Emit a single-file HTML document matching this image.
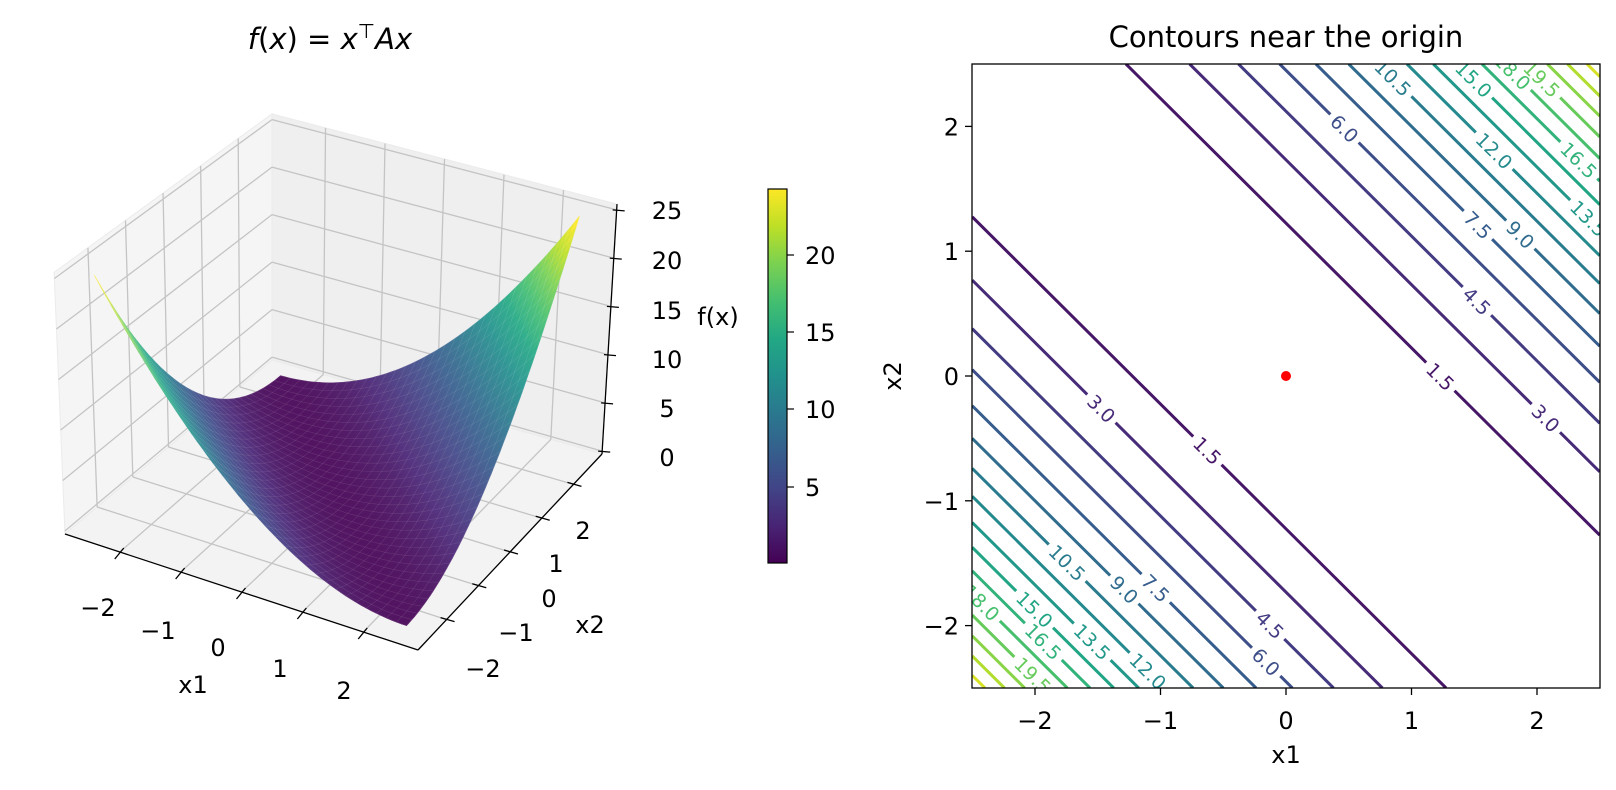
<!DOCTYPE html>
<html><head><meta charset="utf-8">
<style>
html,body{margin:0;padding:0;background:#fff;}
svg{display:block;font-family:"DejaVu Sans","Liberation Sans",sans-serif;}
</style></head>
<body>
<svg id="s" width="1616" height="790" viewBox="0 0 1616 790" xmlns="http://www.w3.org/2000/svg">
<defs>
<clipPath id="cax"><rect x="972" y="64" width="628" height="624"/></clipPath>
<linearGradient id="vg" x1="0" y1="1" x2="0" y2="0">
<stop offset="0" stop-color="#440154"/><stop offset="0.1" stop-color="#482475"/><stop offset="0.2" stop-color="#414487"/><stop offset="0.3" stop-color="#355f8d"/><stop offset="0.4" stop-color="#2a788e"/><stop offset="0.5" stop-color="#21918c"/><stop offset="0.6" stop-color="#22a884"/><stop offset="0.7" stop-color="#44bf70"/><stop offset="0.8" stop-color="#7ad151"/><stop offset="0.9" stop-color="#bddf26"/><stop offset="1" stop-color="#fde725"/>
</linearGradient>
</defs>
<g id="g3d"></g>
<g id="gc"></g>
<text x="330" y="49" font-size="29" text-anchor="middle"><tspan font-style="italic">f</tspan>(<tspan font-style="italic">x</tspan>) = <tspan font-style="italic">x</tspan><tspan font-size="20" dy="-11">⊤</tspan><tspan dy="11" font-style="italic">Ax</tspan></text>
<text x="1286" y="47" font-size="29" text-anchor="middle">Contours near the origin</text>
<rect x="768" y="189" width="19" height="374" fill="url(#vg)" stroke="#000" stroke-width="1.2"/>
<g stroke="#000" stroke-width="1.2">
<line x1="787" y1="487" x2="794" y2="487"/><line x1="787" y1="409" x2="794" y2="409"/><line x1="787" y1="332" x2="794" y2="332"/><line x1="787" y1="255" x2="794" y2="255"/>
</g>
<g font-size="24">
<text x="805" y="496">5</text><text x="805" y="418">10</text><text x="805" y="341">15</text><text x="805" y="264">20</text>
<text x="718" y="325" text-anchor="middle">f(x)</text>
</g>
</svg>
<script>
var NS="http://www.w3.org/2000/svg";
function el(p,t,a,txt){var e=document.createElementNS(NS,t);for(var k in a)e.setAttribute(k,a[k]);if(txt!=null)e.textContent=txt;p.appendChild(e);return e;}
var VS=[[0,[68,1,84]],[0.1,[72,36,117]],[0.2,[65,68,135]],[0.3,[53,95,141]],[0.4,[42,120,142]],[0.5,[33,145,140]],[0.6,[34,168,132]],[0.7,[68,191,112]],[0.8,[122,209,81]],[0.9,[189,223,38]],[1,[253,231,37]]];
function virc(t){t=Math.max(0,Math.min(1,t));for(var i=1;i<VS.length;i++){if(t<=VS[i][0]){var a=VS[i-1],b=VS[i],f=(t-a[0])/(b[0]-a[0]);return [0,1,2].map(function(j){return a[1][j]+(b[1][j]-a[1][j])*f});}}return [253,231,37];}
function vir(t){return "rgb("+virc(t).map(Math.round).join(",")+")";}
function virL(t,w){return "rgb("+virc(t).map(function(c){return Math.round(c+(255-c)*w)}).join(",")+")";}
var g=document.getElementById("g3d");
var A=[65,534],B=[418,650],C=[602,454],D=[272,360];
var kA=10.1,kB=10.0,kC=9.65,kD=9.5,sA=-0.42,sB=0.1,sC=0.58,sD=0;
var H=2.9,Z0=-0.3,Z1=25.6;
function bil(a,b,c,d,u,v){return (1-u)*(1-v)*a+u*(1-v)*b+u*v*c+(1-u)*v*d;}
function P(x1,x2,z){var u=(x1+H)/(2*H),v=(x2+H)/(2*H);var fx=bil(A[0],B[0],C[0],D[0],u,v),fy=bil(A[1],B[1],C[1],D[1],u,v);var k=bil(kA,kB,kC,kD,u,v),s=bil(sA,sB,sC,sD,u,v);var zz=z-Z0;return [fx+zz*s,fy-zz*k];}
function pts(a){return a.map(function(p){return p[0].toFixed(1)+","+p[1].toFixed(1)}).join(" ");}
el(g,"polygon",{points:pts([P(-H,-H,Z0),P(-H,H,Z0),P(-H,H,Z1),P(-H,-H,Z1)]),fill:"#f5f5f5",stroke:"#ebebeb","stroke-width":1});
el(g,"polygon",{points:pts([P(-H,H,Z0),P(H,H,Z0),P(H,H,Z1),P(-H,H,Z1)]),fill:"#efefef",stroke:"#ebebeb","stroke-width":1});
el(g,"polygon",{points:pts([P(-H,-H,Z0),P(H,-H,Z0),P(H,H,Z0),P(-H,H,Z0)]),fill:"#f3f3f3",stroke:"#ebebeb","stroke-width":1});
var gs={stroke:"#c4c4c4","stroke-width":1.3,fill:"none"};
function ln(p,q,a){var o={x1:p[0],y1:p[1],x2:q[0],y2:q[1]};for(var k in a)o[k]=a[k];el(g,"line",o);}
for(var t=-2;t<=2;t++){
 ln(P(-H,t,Z0),P(-H,t,Z1),gs); ln(P(t,H,Z0),P(t,H,Z1),gs);
 ln(P(t,-H,Z0),P(t,H,Z0),gs); ln(P(-H,t,Z0),P(H,t,Z0),gs);
}
for(var z=0;z<=25;z+=5){ln(P(-H,-H,z),P(-H,H,z),gs);ln(P(-H,H,z),P(H,H,z),gs);}
var N=60,quads=[];
function f(a,b){return (a+b)*(a+b);}
for(var i=0;i<N;i++)for(var j=0;j<N;j++){
 var a0=-2.5+5*i/N,a1=-2.5+5*(i+1)/N,b0=-2.5+5*j/N,b1=-2.5+5*(j+1)/N;
 var zs=[f(a0,b0),f(a1,b0),f(a1,b1),f(a0,b1)];var zm=(zs[0]+zs[1]+zs[2]+zs[3])/4;
 quads.push({d:(a0+a1)/2-(b0+b1)/2,p:[P(a0,b0,zs[0]),P(a1,b0,zs[1]),P(a1,b1,zs[2]),P(a0,b1,zs[3])],c:virL(zm/24.3,0.08)});
}
quads.sort(function(x,y){return x.d-y.d;});
var sg=el(g,"g",{});
quads.forEach(function(q){el(sg,"polygon",{points:pts(q.p),fill:q.c,stroke:q.c,"stroke-width":0.7,"stroke-linejoin":"round"});});
var mg=el(g,"g",{stroke:"#ffffff","stroke-opacity":0.12,"stroke-width":0.6,fill:"none"});
for(var i=0;i<=N;i+=2){var pa=[],pb=[];for(var j=0;j<=N;j+=2){var a=-2.5+5*i/N,b=-2.5+5*j/N;pa.push(P(a,b,f(a,b)));pb.push(P(b,a,f(a,b)));}el(mg,"polyline",{points:pts(pa)});el(mg,"polyline",{points:pts(pb)});}
var ax={stroke:"#000","stroke-width":1.3};
ln(P(-H,-H,Z0),P(H,-H,Z0),ax);ln(P(H,-H,Z0),P(H,H,Z0),ax);ln(P(H,H,Z0),P(H,H,Z1),ax);
for(var t=-2;t<=2;t++){var p=P(t,-H,Z0);ln([p[0]+4,p[1]-4],[p[0]-5,p[1]+7],ax);var q=P(H,t,Z0);ln([q[0]-6,q[1]-2],[q[0]+8,q[1]+2],ax);}
for(var z=0;z<=25;z+=5){var r=P(H,H,z);ln([r[0]-4,r[1]],[r[0]+8,r[1]+1],ax);}
var tl={"font-size":24,"text-anchor":"middle"};
function tx(x,y,s,a){var o={x:x,y:y};for(var k in a)o[k]=a[k];el(g,"text",o,s);}
[["−2",98,616],["−1",158,639],["0",218,656],["1",280,677],["2",344,699]].forEach(function(d){tx(d[1],d[2],d[0],tl);});
tx(193,693,"x1",tl);
[["−2",483,677],["−1",516,641],["0",549,607],["1",556,572],["2",583,539]].forEach(function(d){tx(d[1],d[2],d[0],tl);});
tx(590,633,"x2",tl);
[["25",210],["20",260],["15",310],["10",359],["5",408],["0",457]].forEach(function(d){tx(667,d[1]+9,d[0],tl);});
var gc=document.getElementById("gc");
var X0=1286,UX=125.5,Y0=376,UY=124.8;
function S(x1,x2){return [X0+UX*x1,Y0-UY*x2];}
el(gc,"rect",{x:972,y:64,width:628,height:624,fill:"#fff"});
var cg=el(gc,"g",{"clip-path":"url(#cax)"});
function lc(L){return vir(L/25.5);}
for(var k=1;k<=16;k++){var L=1.5*k,s=Math.sqrt(L);
 [s,-s].forEach(function(ss){var p,q;if(ss>0){p=S(ss-2.5,2.5);q=S(2.5,ss-2.5);}else{p=S(-2.5,ss+2.5);q=S(ss+2.5,-2.5);}
 el(cg,"line",{x1:p[0],y1:p[1],x2:q[0],y2:q[1],stroke:lc(L),"stroke-width":3});});
}
var labs=[[1.5,1,1440,377],[3.0,1,1543,421],[4.5,1,1478,300],[6.0,1,1345,128],[7.5,1,1478,225],[9.0,1,1520,235],[10.5,1,1393,78],[12.0,1,1495,150],[15.0,1,1473,80],[18.0,1,1512,72],[19.5,1,1543,78],[16.5,1,1584,155],[13.5,1,1595,212],
[3.0,-1,1102,408],[1.5,-1,1207,451],[4.5,-1,1271,624],[6.0,-1,1252,676],[7.5,-1,1171,573],[9.0,-1,1128,586],[10.5,-1,1068,562],[12.0,-1,1143,676],[13.5,-1,1084,650],[15.0,-1,1042,602],[16.5,-1,1058,627],[18.0,-1,980,604],[19.5,-1,1027,681]];
var ang=Math.atan2(UY,UX)*180/Math.PI;
labs.forEach(function(l){var L=l[0],s=l[1]*Math.sqrt(L);var x1=(l[2]-X0)/UX,x2=(Y0-l[3])/UY;var d=(x1+x2-s)/2;x1-=d;x2-=d;var p=S(x1,x2);
 var gg=el(cg,"g",{transform:"translate("+p[0].toFixed(1)+","+p[1].toFixed(1)+") rotate("+ang.toFixed(1)+")"});
 var w=L>=10?52:40;
 el(gg,"rect",{x:-w/2,y:-4,width:w,height:8,fill:"#fff"});
 el(gg,"text",{x:0,y:7,"font-size":19,"text-anchor":"middle",fill:lc(L)},L.toFixed(1));
});
el(cg,"circle",{cx:X0,cy:Y0,r:5,fill:"#ff0000"});
el(gc,"rect",{x:972,y:64,width:628,height:624,fill:"none",stroke:"#000","stroke-width":1.3});
for(var t=-2;t<=2;t++){var px=X0+UX*t,py=Y0-UY*t;
 el(gc,"line",{x1:px,y1:688,x2:px,y2:695,stroke:"#000","stroke-width":1.3});
 el(gc,"line",{x1:965,y1:py,x2:972,y2:py,stroke:"#000","stroke-width":1.3});
 var lab=t<0?"−"+(-t):""+t;
 el(gc,"text",{x:px,y:729,"font-size":24,"text-anchor":"middle"},lab);
 el(gc,"text",{x:959,y:py+9,"font-size":24,"text-anchor":"end"},lab);
}
el(gc,"text",{x:X0,y:763,"font-size":24,"text-anchor":"middle"},"x1");
el(gc,"text",{x:901,y:Y0,"font-size":24,"text-anchor":"middle",transform:"rotate(-90 901 "+Y0+")"},"x2");
</script>
</body></html>
